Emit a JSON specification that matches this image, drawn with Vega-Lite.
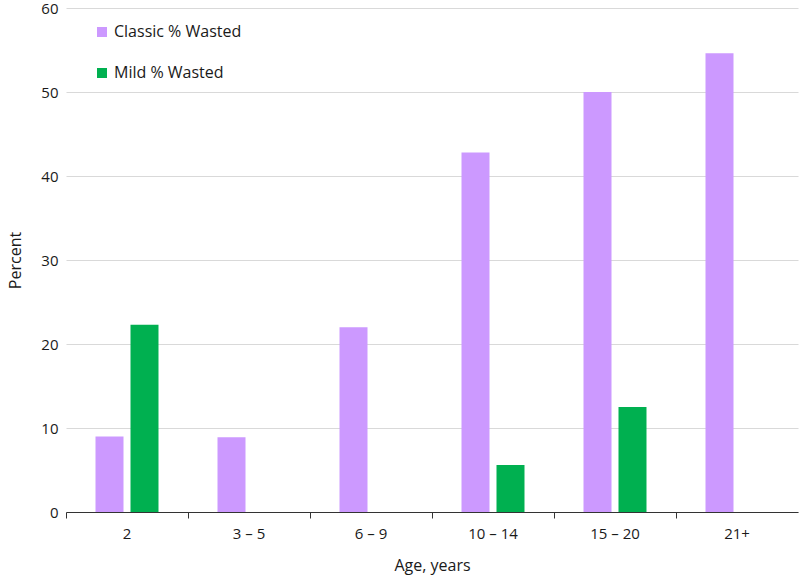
{
  "$schema": "https://vega.github.io/schema/vega-lite/v6.json",
  "autosize": {"type": "none"},
  "width": 732,
  "height": 504,
  "padding": {"left": 66, "top": 8, "right": 2, "bottom": 68},
  "background": "white",
  "config": {
    "view": {"stroke": null},
    "font": "Open Sans",
    "axis": {"labelFont": "Open Sans", "titleFont": "Open Sans", "labelColor": "#1a1a1a", "titleColor": "#1a1a1a", "titleFontWeight": "normal"},
    "legend": {"labelFont": "Open Sans", "labelColor": "#1a1a1a"}
  },
  "data": {
    "values": [
      {"age": "2", "series": "Classic % Wasted", "pct": 9.0},
      {"age": "2", "series": "Mild % Wasted", "pct": 22.3},
      {"age": "3 – 5", "series": "Classic % Wasted", "pct": 8.9},
      {"age": "6 – 9", "series": "Classic % Wasted", "pct": 22.0},
      {"age": "10 – 14", "series": "Classic % Wasted", "pct": 42.8},
      {"age": "10 – 14", "series": "Mild % Wasted", "pct": 5.6},
      {"age": "15 – 20", "series": "Classic % Wasted", "pct": 50.0},
      {"age": "15 – 20", "series": "Mild % Wasted", "pct": 12.5},
      {"age": "21+", "series": "Classic % Wasted", "pct": 54.6}
    ]
  },
  "mark": {"type": "bar"},
  "encoding": {
    "x": {
      "field": "age", "type": "nominal",
      "sort": ["2", "3 – 5", "6 – 9", "10 – 14", "15 – 20", "21+"],
      "scale": {"paddingInner": 0, "paddingOuter": 0},
      "axis": {"title": "Age, years", "labelAngle": 0, "labelFontSize": 15, "titleFontSize": 16,
               "domainColor": "#333", "tickColor": "#333", "tickSize": 6, "bandPosition": 0,
               "labelPadding": 8, "titlePadding": 16}
    },
    "xOffset": {
      "field": "series", "type": "nominal",
      "scale": {"paddingInner": 0.2, "paddingOuter": 0.843}
    },
    "y": {
      "field": "pct", "type": "quantitative",
      "scale": {"domain": [0, 60]},
      "axis": {"title": "Percent", "values": [0, 10, 20, 30, 40, 50, 60], "labelFontSize": 15, "titleFontSize": 16,
               "domain": false, "ticks": false, "gridColor": "#d9d9d9", "gridWidth": 1.2,
               "labelPadding": 8, "titlePadding": 17}
    },
    "color": {
      "field": "series", "type": "nominal",
      "scale": {"domain": ["Classic % Wasted", "Mild % Wasted"], "range": ["#cc99ff", "#00b050"]},
      "legend": {"title": null, "orient": "none", "legendX": 28, "legendY": 16,
                 "symbolType": "square", "symbolSize": 100, "labelFontSize": 16,
                 "rowPadding": 25, "labelOffset": 4, "symbolStrokeWidth": 0}
    }
  }
}
